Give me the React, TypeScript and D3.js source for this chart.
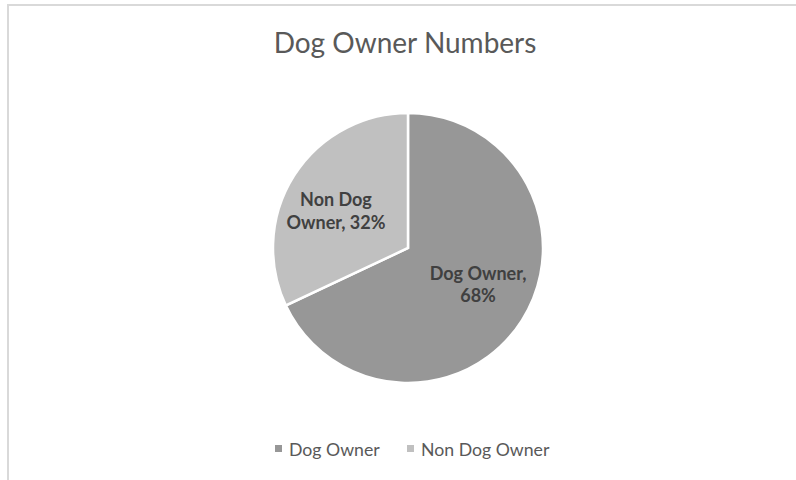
import React from "react";
import * as d3 from "d3";

const categories = ["Dog Owner", "Non Dog Owner"];
const values = [68, 32];
const colors = ["#979797", "#c0c0c0"];
const titleText = "Dog Owner Numbers";

const W = 796;
const H = 480;
const CX = 408;
const CY = 248;
const R = 135;
const LABEL_R = 80;
const labelShift = [
  [2.5, -6],
  [-4.5, 6],
];
const labelLines = [
  ["Dog Owner,", "68%"],
  ["Non Dog", "Owner, 32%"],
];
const legendX = [275, 407];

export default function App() {
  const data = categories.map((c, i) => ({ name: c, value: values[i] }));
  const pie = d3
    .pie<{ name: string; value: number }>()
    .sort(null)
    .value((d) => d.value)
    .startAngle(0)
    .endAngle(2 * Math.PI);
  const arcs = pie(data);
  const arc = d3
    .arc<d3.PieArcDatum<{ name: string; value: number }>>()
    .innerRadius(0)
    .outerRadius(R);
  const labelArc = d3
    .arc<d3.PieArcDatum<{ name: string; value: number }>>()
    .innerRadius(LABEL_R)
    .outerRadius(LABEL_R);
  const font = "Lato, 'Open Sans', sans-serif";
  return (
    <svg
      width={W}
      height={H}
      style={{ position: "fixed", left: 0, top: 0, background: "#fff" }}
    >
      <rect x={8} y={5} width={W + 10} height={H + 10} fill="#fff" stroke="#d9d9d9" strokeWidth={2} />
      <text
        x={405}
        y={53}
        textAnchor="middle"
        fontFamily={font}
        fontSize={28}
        fill="#595959"
      >
        {titleText}
      </text>
      <g transform={`translate(${CX},${CY})`}>
        {arcs.map((a, i) => (
          <path key={i} d={arc(a) || ""} fill={colors[i]} stroke="#fff" strokeWidth={2.5} strokeLinejoin="miter" />
        ))}
        {arcs.map((a, i) => {
          const [x, y] = labelArc.centroid(a);
          const lx = x + labelShift[i][0];
          const ly = y + labelShift[i][1];
          return (
            <text
              key={i}
              textAnchor="middle"
              fontFamily={font}
              fontWeight="bold"
              fontSize={18}
              fill="#404040"
            >
              <tspan x={lx} y={ly - 5}>{labelLines[i][0]}</tspan>
              <tspan x={lx} y={ly + 17.5}>{labelLines[i][1]}</tspan>
            </text>
          );
        })}
      </g>
      {categories.map((c, i) => (
        <g key={c}>
          <rect x={legendX[i]} y={445} width={7} height={7} fill={colors[i]} />
          <text x={legendX[i] + 14} y={455.7} fontFamily={font} fontSize={17.7} fill="#595959">
            {c}
          </text>
        </g>
      ))}
    </svg>
  );
}
